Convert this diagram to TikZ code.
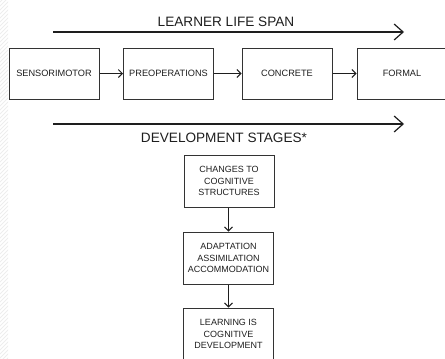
\documentclass[tikz,border=0pt]{standalone}
\usepackage{fontspec}
\setmainfont{Liberation Sans}
\usetikzlibrary{arrows.meta}

\definecolor{ink}{HTML}{1E1E1E}
\definecolor{frame}{HTML}{333333}

\tikzset{
  stagebox/.style={draw=frame, line width=1pt, minimum width=90pt, minimum height=51pt,
    inner sep=0pt, text=ink, font=\fontsize{9.2}{11}\selectfont, align=center},
  flowbox/.style={draw=frame, line width=1pt, minimum width=90pt, minimum height=52pt,
    inner sep=0pt, text=ink, font=\fontsize{9}{11.3}\selectfont, align=center},
  bigarrow/.style={draw=ink, line width=1.2pt, -{Straight Barb[length=9pt,width=16pt,line width=1.2pt]}},
  smallarrow/.style={draw=ink, line width=0.9pt, -{Straight Barb[length=4pt,width=8pt,line width=0.9pt]}},
  heading/.style={text=ink, font=\fontsize{13.6}{16}\selectfont}
}

\begin{document}
\begin{tikzpicture}[x=1pt, y=-1pt]
  \useasboundingbox (0,0) rectangle (445,359);
  \clip (0,0) rectangle (445,359);

  % faint hatched strip along the left edge
  \begin{scope}
    \clip (0,0) rectangle (8,359);
    \foreach \k in {0,4,...,380} {
      \draw[gray!14, line width=0.8pt] (-2,\k) -- (10,\k-12);
    }
  \end{scope}

  % life span arrow and its label
  \node[heading] (span) at (226,22) {LEARNER LIFE SPAN};
  \coordinate (spanL) at (53,32);
  \coordinate (spanR) at (404,32);
  \draw[bigarrow] (spanL) -- (spanR);

  % developmental stages
  \node[stagebox] (s1) at (54,73.5) {SENSORIMOTOR};
  \node[stagebox] (s2) at (168.5,73.5) {PREOPERATIONS};
  \node[stagebox] (s3) at (287,73.5) {CONCRETE};
  \node[stagebox] (s4) at (402,73.5) {FORMAL};
  \draw[smallarrow] (s1) -- (s2);
  \draw[smallarrow] (s2) -- (s3);
  \draw[smallarrow] (s3) -- (s4);

  % stages arrow and its label
  \coordinate (stL) at (53,124);
  \coordinate (stR) at (404,124);
  \draw[bigarrow] (stL) -- (stR);
  \node[heading] (stages) at (224,138) {DEVELOPMENT STAGES*};

  % vertical chain
  \node[flowbox] (c1) at (229,181) {CHANGES TO\\COGNITIVE\\STRUCTURES};
  \node[flowbox] (c2) at (228.5,258) {ADAPTATION\\ASSIMILATION\\ACCOMMODATION};
  \node[flowbox] (c3) at (228.5,334) {LEARNING IS\\COGNITIVE\\DEVELOPMENT};
  \draw[smallarrow] (c1.south -| c2.north) -- (c2.north);
  \draw[smallarrow] (c2) -- (c3);
\end{tikzpicture}
\end{document}
